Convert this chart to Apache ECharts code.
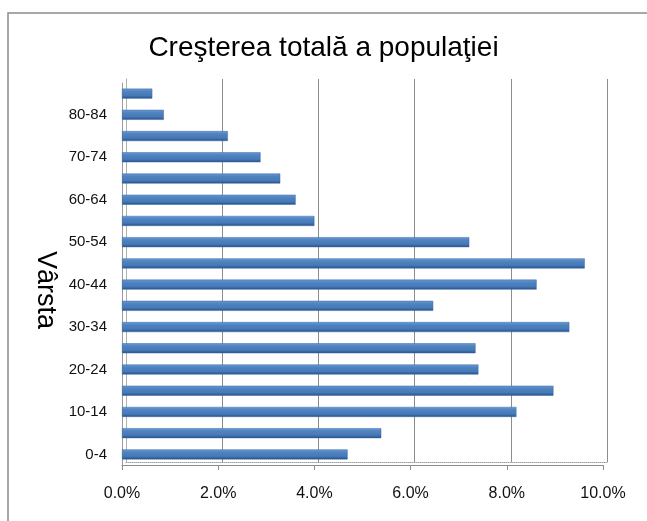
<!DOCTYPE html>
<html>
<head>
<meta charset="utf-8">
<title>Creşterea totală a populaţiei</title>
<script src="https://cdn.jsdelivr.net/npm/echarts@6/dist/echarts.min.js"></script>
<style>
	html, body { margin: 0; padding: 0; background: #fff; }
	#chart { width: 647px; height: 521px; }
</style>
</head>
<body>
<div id="chart"></div>
<script>
	"use strict";
	// age groups, bottom to top
	var ageGroups = ['0-4', '5-9', '10-14', '15-19', '20-24', '25-29', '30-34', '35-39', '40-44',
		'45-49', '50-54', '55-59', '60-64', '65-69', '70-74', '75-79', '80-84', '85+'];
	// total growth per age group, in percent
	var growthValues = [4.69, 5.39, 8.2, 8.97, 7.41, 7.35, 9.3, 6.47, 8.62,
		9.62, 7.22, 4.0, 3.61, 3.29, 2.88, 2.2, 0.87, 0.63];
	// x axis ticks (percent)
	var tickMin = 0;
	var tickMax = 10;
	var tickStep = 2;

	var fontName = '"Liberation Sans", Arial, sans-serif';
	var chart = echarts.init(document.getElementById('chart'), null, { renderer: 'canvas' });

	var option = {
		backgroundColor: '#fff',
		animation: false,
		title: {
			text: 'Creşterea totală a populaţiei',
			left: 'center',
			top: 29,
			textStyle: {
				color: '#000',
				fontFamily: fontName,
				fontSize: 28,
				fontWeight: 'normal'
			}
		},
		graphic: [{
			// outer chart frame (only top and left edges are visible)
			type: 'rect',
			shape: { x: 8, y: 13, width: 700, height: 600 },
			style: { fill: 'none', stroke: '#8c8c8c', lineWidth: 1.5 },
			silent: true
		}, {
			// vertical axis title, reads top to bottom
			type: 'text',
			x: 45,
			y: 290,
			rotation: -Math.PI / 2,
			style: {
				text: 'Vârsta',
				fill: '#000',
				font: '27px ' + fontName,
				textAlign: 'center',
				textVerticalAlign: 'middle'
			},
			silent: true
		}],
		grid: [{
			// front plane: bars and labels
			left: 122,
			right: 44,
			top: 83,
			bottom: 56
		}, {
			// back wall: gridlines, shifted a bit for the 3d look
			left: 126,
			right: 40,
			top: 79,
			bottom: 59
		}],
		xAxis: [{
			type: 'value',
			gridIndex: 0,
			min: tickMin,
			max: tickMax,
			interval: tickStep,
			axisLine: { show: true, lineStyle: { color: '#8c8c8c', width: 1 } },
			axisTick: { show: true, length: 5, lineStyle: { color: '#8c8c8c' } },
			splitLine: { show: false },
			axisLabel: {
				margin: 21,
				color: '#111',
				fontFamily: fontName,
				fontSize: 16,
				formatter: function(value) {
					return value.toFixed(1) + '%';
				}
			}
		}, {
			type: 'value',
			gridIndex: 1,
			min: tickMin,
			max: tickMax,
			interval: tickStep,
			axisLine: { show: true, lineStyle: { color: '#a0a0a0', width: 1, type: 'dotted' } },
			axisTick: { show: false },
			axisLabel: { show: false },
			splitLine: { show: true, lineStyle: { color: '#8c8c8c', width: 1 } }
		}],
		yAxis: [{
			type: 'category',
			gridIndex: 0,
			data: ageGroups,
			axisLine: { show: true, lineStyle: { color: '#9a9a9a', width: 1 } },
			axisTick: { show: false },
			axisLabel: {
				interval: 1,
				margin: 15,
				color: '#111',
				fontFamily: fontName,
				fontSize: 15
			}
		}, {
			type: 'category',
			gridIndex: 1,
			data: ageGroups,
			axisLine: { show: true, lineStyle: { color: '#b0b0b0', width: 1 } },
			axisTick: { show: false },
			axisLabel: { show: false }
		}],
		series: [{
			name: 'Creşterea totală',
			type: 'bar',
			xAxisIndex: 0,
			yAxisIndex: 0,
			data: growthValues,
			barWidth: 10,
			itemStyle: {
				color: new echarts.graphic.LinearGradient(0, 0, 0, 1, [
					{ offset: 0, color: '#6a9ad6' },
					{ offset: 0.3, color: '#4f82c0' },
					{ offset: 0.7, color: '#4679b6' },
					{ offset: 1, color: '#244f86' }
				]),
				borderColor: '#3b6aa5',
				borderWidth: 0.5
			}
		}]
	};
	chart.setOption(option);
</script>
</body>
</html>
